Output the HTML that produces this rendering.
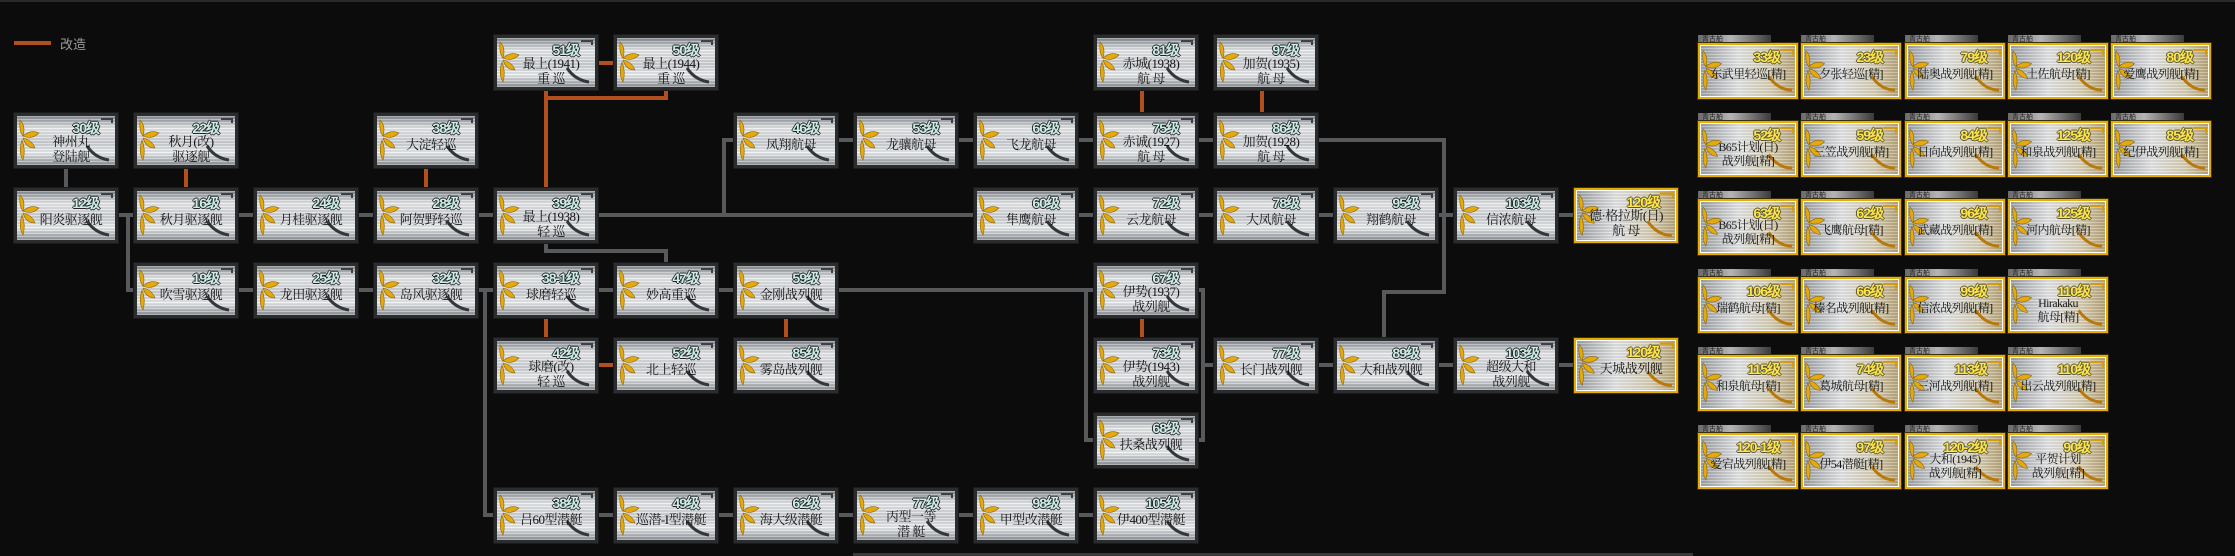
<!DOCTYPE html>
<html><head><meta charset="utf-8">
<style>
html,body{margin:0;padding:0;background:#0c0c0c;}
body{width:2235px;height:556px;position:relative;overflow:hidden;font-family:"Liberation Serif","Noto Serif CJK SC",serif;}
.l{position:absolute;background:#58595b;}
.o{position:absolute;background:#b14f1f;}
.n{position:absolute;width:104px;height:55px;box-sizing:border-box;border:3px solid #2a2c2e;
background:repeating-linear-gradient(180deg,rgba(255,255,255,.28) 0 1px,rgba(0,0,0,.07) 1px 3px),linear-gradient(180deg,#858a90 0%,#e9ebed 25%,#cfd2d6 55%,#eef0f2 75%,#8f9398 100%);
box-shadow:0 0 0 1px #1a1a1a;}
.n.g{border:2px solid #e6ad00;box-shadow:inset 0 0 0 1px #fff,0 0 0 1px #3a3010;
background:repeating-linear-gradient(180deg,rgba(255,255,255,.25) 0 1px,rgba(0,0,0,.06) 1px 3px),linear-gradient(90deg,#9ea2a6 0%,#e4e5e6 40%,#d8cfb4 75%,#b8a478 100%);}
.n svg{position:absolute;left:0;top:0;width:100%;height:100%;}
.lv{position:absolute;right:16px;top:2px;font:bold 14px "Liberation Sans",sans-serif;color:#cdeee8;letter-spacing:-1px;
text-shadow:1px 0 #222,-1px 0 #222,0 1px #222,0 -1px #222;}
.g .lv{color:#ffe44a;text-shadow:1px 0 #553,-1px 0 #553,0 1px #553,0 -1px #553;}
.nm{position:absolute;left:12px;right:2px;top:21px;text-align:center;font-size:13px;line-height:15px;color:#141414;white-space:nowrap;letter-spacing:-0.5px;}
.nm.t{top:18px;}
.c .nm{left:0;right:0;font-size:12px;line-height:14px;letter-spacing:-0.6px;top:22px;}
.c .nm.t{top:17px;}
.tab{position:absolute;width:73px;height:9px;background:linear-gradient(90deg,#6a6a6a,#b5b5b5 45%,#3a3a3a);font:7px "Liberation Sans","Noto Sans CJK SC",sans-serif;color:#222;line-height:9px;padding-left:4px;box-sizing:border-box;}
.c{position:absolute;width:100px;height:56px;}
</style></head><body>
<svg width="0" height="0" style="position:absolute">
<defs>
<symbol id="fl" viewBox="0 0 98 49">
<g fill="#e3a90e" stroke="#8a6508" stroke-width=".6">
<path d="M3 4 Q9 10 6 20 Q2 16 3 4Z"/>
<path d="M6 20 Q14 13 22 17 Q15 24 6 20Z"/>
<path d="M6 22 Q15 24 18 32 Q9 32 6 22Z"/>
<path d="M5 24 Q9 34 6 44 Q1 36 5 24Z"/>
</g>
<path d="M70 30 Q78 42 92 44" fill="none" stroke="#33363a" stroke-width="3"/>
<path d="M84 3 L95 3 L95 7" fill="none" stroke="#3d4044" stroke-width="2"/>
</symbol>
<symbol id="flg" viewBox="0 0 98 49">
<g fill="#e3a90e" stroke="#8a6508" stroke-width=".6">
<path d="M3 4 Q9 10 6 20 Q2 16 3 4Z"/>
<path d="M6 20 Q14 13 22 17 Q15 24 6 20Z"/>
<path d="M6 22 Q15 24 18 32 Q9 32 6 22Z"/>
<path d="M5 24 Q9 34 6 44 Q1 36 5 24Z"/>
</g>
<path d="M70 30 Q80 44 94 44" fill="none" stroke="#b8780a" stroke-width="3"/>
<path d="M82 3 L95 3 L95 8" fill="none" stroke="#d99a00" stroke-width="2"/>
</symbol>
</defs></svg>

<div style="position:absolute;left:0;top:0;width:2235px;height:2px;background:#2a2a2a"></div>
<div style="position:absolute;left:853px;top:553px;width:840px;height:3px;background:#3a3a3a"></div>

<div class="o" style="left:14px;top:41px;width:37px;height:4px"></div>
<div style="position:absolute;left:60px;top:34px;color:#9a9a9a;font:13px 'Liberation Sans','Noto Sans CJK SC',sans-serif">改造</div>

<div class="l" style="left:64px;top:168px;width:4px;height:20px"></div>
<div class="l" style="left:118px;top:213px;width:1456px;height:4px"></div>
<div class="l" style="left:722px;top:138px;width:4px;height:77px"></div>
<div class="l" style="left:722px;top:138px;width:724px;height:4px"></div>
<div class="l" style="left:1442px;top:138px;width:4px;height:156px"></div>
<div class="l" style="left:1382px;top:290px;width:64px;height:4px"></div>
<div class="l" style="left:1382px;top:290px;width:4px;height:48px"></div>
<div class="l" style="left:126px;top:215px;width:4px;height:77px"></div>
<div class="l" style="left:126px;top:288px;width:970px;height:4px"></div>
<div class="l" style="left:544px;top:242px;width:4px;height:11px"></div>
<div class="l" style="left:544px;top:249px;width:124px;height:4px"></div>
<div class="l" style="left:664px;top:249px;width:4px;height:14px"></div>
<div class="l" style="left:483px;top:290px;width:4px;height:227px"></div>
<div class="l" style="left:483px;top:513px;width:611px;height:4px"></div>
<div class="l" style="left:1084px;top:290px;width:4px;height:152px"></div>
<div class="l" style="left:1084px;top:438px;width:12px;height:4px"></div>
<div class="l" style="left:1196px;top:288px;width:9px;height:4px"></div>
<div class="l" style="left:1201px;top:288px;width:4px;height:154px"></div>
<div class="l" style="left:1196px;top:438px;width:9px;height:4px"></div>
<div class="l" style="left:1201px;top:363px;width:372px;height:4px"></div>

<div class="o" style="left:184px;top:168px;width:4px;height:20px"></div>
<div class="o" style="left:424px;top:168px;width:4px;height:20px"></div>
<div class="o" style="left:598px;top:61px;width:16px;height:4px"></div>
<div class="o" style="left:544px;top:90px;width:4px;height:98px"></div>
<div class="o" style="left:664px;top:90px;width:4px;height:10px"></div>
<div class="o" style="left:544px;top:96px;width:124px;height:4px"></div>
<div class="o" style="left:1140px;top:90px;width:4px;height:23px"></div>
<div class="o" style="left:1260px;top:90px;width:4px;height:23px"></div>
<div class="o" style="left:544px;top:318px;width:4px;height:20px"></div>
<div class="o" style="left:598px;top:363px;width:16px;height:4px"></div>
<div class="o" style="left:784px;top:318px;width:4px;height:20px"></div>
<div class="o" style="left:1140px;top:318px;width:4px;height:20px"></div>

<div class="n" style="left:494px;top:35px"><svg><use href="#fl"/></svg><div class="lv">51级</div><div class="nm t">最上(1941)<br>重 巡</div></div>
<div class="n" style="left:614px;top:35px"><svg><use href="#fl"/></svg><div class="lv">50级</div><div class="nm t">最上(1944)<br>重 巡</div></div>
<div class="n" style="left:1094px;top:35px"><svg><use href="#fl"/></svg><div class="lv">81级</div><div class="nm t">赤城(1938)<br>航 母</div></div>
<div class="n" style="left:1214px;top:35px"><svg><use href="#fl"/></svg><div class="lv">97级</div><div class="nm t">加贺(1935)<br>航 母</div></div>
<div class="n" style="left:14px;top:113px"><svg><use href="#fl"/></svg><div class="lv">30级</div><div class="nm t">神州丸<br>登陆舰</div></div>
<div class="n" style="left:134px;top:113px"><svg><use href="#fl"/></svg><div class="lv">22级</div><div class="nm t">秋月(改)<br>驱逐舰</div></div>
<div class="n" style="left:374px;top:113px"><svg><use href="#fl"/></svg><div class="lv">38级</div><div class="nm">大淀轻巡</div></div>
<div class="n" style="left:734px;top:113px"><svg><use href="#fl"/></svg><div class="lv">46级</div><div class="nm">凤翔航母</div></div>
<div class="n" style="left:854px;top:113px"><svg><use href="#fl"/></svg><div class="lv">53级</div><div class="nm">龙骧航母</div></div>
<div class="n" style="left:974px;top:113px"><svg><use href="#fl"/></svg><div class="lv">66级</div><div class="nm">飞龙航母</div></div>
<div class="n" style="left:1094px;top:113px"><svg><use href="#fl"/></svg><div class="lv">75级</div><div class="nm t">赤诚(1927)<br>航 母</div></div>
<div class="n" style="left:1214px;top:113px"><svg><use href="#fl"/></svg><div class="lv">86级</div><div class="nm t">加贺(1928)<br>航 母</div></div>
<div class="n" style="left:14px;top:188px"><svg><use href="#fl"/></svg><div class="lv">12级</div><div class="nm">阳炎驱逐舰</div></div>
<div class="n" style="left:134px;top:188px"><svg><use href="#fl"/></svg><div class="lv">16级</div><div class="nm">秋月驱逐舰</div></div>
<div class="n" style="left:254px;top:188px"><svg><use href="#fl"/></svg><div class="lv">24级</div><div class="nm">月桂驱逐舰</div></div>
<div class="n" style="left:374px;top:188px"><svg><use href="#fl"/></svg><div class="lv">28级</div><div class="nm">阿贺野轻巡</div></div>
<div class="n" style="left:494px;top:188px"><svg><use href="#fl"/></svg><div class="lv">39级</div><div class="nm t">最上(1938)<br>轻 巡</div></div>
<div class="n" style="left:974px;top:188px"><svg><use href="#fl"/></svg><div class="lv">60级</div><div class="nm">隼鹰航母</div></div>
<div class="n" style="left:1094px;top:188px"><svg><use href="#fl"/></svg><div class="lv">72级</div><div class="nm">云龙航母</div></div>
<div class="n" style="left:1214px;top:188px"><svg><use href="#fl"/></svg><div class="lv">78级</div><div class="nm">大凤航母</div></div>
<div class="n" style="left:1334px;top:188px"><svg><use href="#fl"/></svg><div class="lv">95级</div><div class="nm">翔鹤航母</div></div>
<div class="n" style="left:1454px;top:188px"><svg><use href="#fl"/></svg><div class="lv">103级</div><div class="nm">信浓航母</div></div>
<div class="n g" style="left:1574px;top:188px"><svg><use href="#flg"/></svg><div class="lv">120级</div><div class="nm t" style="left:2px">德·格拉斯(日)<br>航 母</div></div>
<div class="n" style="left:134px;top:263px"><svg><use href="#fl"/></svg><div class="lv">19级</div><div class="nm">吹雪驱逐舰</div></div>
<div class="n" style="left:254px;top:263px"><svg><use href="#fl"/></svg><div class="lv">25级</div><div class="nm">龙田驱逐舰</div></div>
<div class="n" style="left:374px;top:263px"><svg><use href="#fl"/></svg><div class="lv">32级</div><div class="nm">岛风驱逐舰</div></div>
<div class="n" style="left:494px;top:263px"><svg><use href="#fl"/></svg><div class="lv">38-1级</div><div class="nm">球磨轻巡</div></div>
<div class="n" style="left:614px;top:263px"><svg><use href="#fl"/></svg><div class="lv">47级</div><div class="nm">妙高重巡</div></div>
<div class="n" style="left:734px;top:263px"><svg><use href="#fl"/></svg><div class="lv">59级</div><div class="nm">金刚战列舰</div></div>
<div class="n" style="left:1094px;top:263px"><svg><use href="#fl"/></svg><div class="lv">67级</div><div class="nm t">伊势(1937)<br>战列舰</div></div>
<div class="n" style="left:494px;top:338px"><svg><use href="#fl"/></svg><div class="lv">42级</div><div class="nm t">球磨(改)<br>轻 巡</div></div>
<div class="n" style="left:614px;top:338px"><svg><use href="#fl"/></svg><div class="lv">52级</div><div class="nm">北上轻巡</div></div>
<div class="n" style="left:734px;top:338px"><svg><use href="#fl"/></svg><div class="lv">85级</div><div class="nm">雾岛战列舰</div></div>
<div class="n" style="left:1094px;top:338px"><svg><use href="#fl"/></svg><div class="lv">73级</div><div class="nm t">伊势(1943)<br>战列舰</div></div>
<div class="n" style="left:1214px;top:338px"><svg><use href="#fl"/></svg><div class="lv">77级</div><div class="nm">长门战列舰</div></div>
<div class="n" style="left:1334px;top:338px"><svg><use href="#fl"/></svg><div class="lv">89级</div><div class="nm">大和战列舰</div></div>
<div class="n" style="left:1454px;top:338px"><svg><use href="#fl"/></svg><div class="lv">103级</div><div class="nm t">超级大和<br>战列舰</div></div>
<div class="n g" style="left:1574px;top:338px"><svg><use href="#flg"/></svg><div class="lv">120级</div><div class="nm">天城战列舰</div></div>
<div class="n" style="left:1094px;top:413px"><svg><use href="#fl"/></svg><div class="lv">68级</div><div class="nm">扶桑战列舰</div></div>
<div class="n" style="left:494px;top:488px"><svg><use href="#fl"/></svg><div class="lv">38级</div><div class="nm">吕60型潜艇</div></div>
<div class="n" style="left:614px;top:488px"><svg><use href="#fl"/></svg><div class="lv">49级</div><div class="nm">巡潜-I型潜艇</div></div>
<div class="n" style="left:734px;top:488px"><svg><use href="#fl"/></svg><div class="lv">62级</div><div class="nm">海大级潜艇</div></div>
<div class="n" style="left:854px;top:488px"><svg><use href="#fl"/></svg><div class="lv">77级</div><div class="nm t">丙型一等<br>潜 艇</div></div>
<div class="n" style="left:974px;top:488px"><svg><use href="#fl"/></svg><div class="lv">98级</div><div class="nm">甲型改潜艇</div></div>
<div class="n" style="left:1094px;top:488px"><svg><use href="#fl"/></svg><div class="lv">105级</div><div class="nm">伊400型潜艇</div></div>

<div class="tab" style="left:1698px;top:35px">青古舶</div><div class="n g c" style="left:1698px;top:43px"><svg><use href="#flg"/></svg><div class="lv">33级</div><div class="nm">东武里轻巡[精]</div></div>
<div class="tab" style="left:1801px;top:35px">青古舶</div><div class="n g c" style="left:1801px;top:43px"><svg><use href="#flg"/></svg><div class="lv">23级</div><div class="nm">夕张轻巡[精]</div></div>
<div class="tab" style="left:1905px;top:35px">青古舶</div><div class="n g c" style="left:1905px;top:43px"><svg><use href="#flg"/></svg><div class="lv">79级</div><div class="nm">陆奥战列舰[精]</div></div>
<div class="tab" style="left:2008px;top:35px">青古舶</div><div class="n g c" style="left:2008px;top:43px"><svg><use href="#flg"/></svg><div class="lv">120级</div><div class="nm">土佐航母[精]</div></div>
<div class="tab" style="left:2111px;top:35px">青古舶</div><div class="n g c" style="left:2111px;top:43px"><svg><use href="#flg"/></svg><div class="lv">80级</div><div class="nm">爱鹰战列舰[精]</div></div>

<div class="tab" style="left:1698px;top:113px">青古舶</div><div class="n g c" style="left:1698px;top:121px"><svg><use href="#flg"/></svg><div class="lv">52级</div><div class="nm t">B65计划(日)<br>战列舰[精]</div></div>
<div class="tab" style="left:1801px;top:113px">青古舶</div><div class="n g c" style="left:1801px;top:121px"><svg><use href="#flg"/></svg><div class="lv">59级</div><div class="nm">三笠战列舰[精]</div></div>
<div class="tab" style="left:1905px;top:113px">青古舶</div><div class="n g c" style="left:1905px;top:121px"><svg><use href="#flg"/></svg><div class="lv">84级</div><div class="nm">日向战列舰[精]</div></div>
<div class="tab" style="left:2008px;top:113px">青古舶</div><div class="n g c" style="left:2008px;top:121px"><svg><use href="#flg"/></svg><div class="lv">125级</div><div class="nm">和泉战列舰[精]</div></div>
<div class="tab" style="left:2111px;top:113px">青古舶</div><div class="n g c" style="left:2111px;top:121px"><svg><use href="#flg"/></svg><div class="lv">85级</div><div class="nm">纪伊战列舰[精]</div></div>

<div class="tab" style="left:1698px;top:191px">青古舶</div><div class="n g c" style="left:1698px;top:199px"><svg><use href="#flg"/></svg><div class="lv">63级</div><div class="nm t">B65计划(日)<br>战列舰[精]</div></div>
<div class="tab" style="left:1801px;top:191px">青古舶</div><div class="n g c" style="left:1801px;top:199px"><svg><use href="#flg"/></svg><div class="lv">62级</div><div class="nm">飞鹰航母[精]</div></div>
<div class="tab" style="left:1905px;top:191px">青古舶</div><div class="n g c" style="left:1905px;top:199px"><svg><use href="#flg"/></svg><div class="lv">96级</div><div class="nm">武藏战列舰[精]</div></div>
<div class="tab" style="left:2008px;top:191px">青古舶</div><div class="n g c" style="left:2008px;top:199px"><svg><use href="#flg"/></svg><div class="lv">125级</div><div class="nm">河内航母[精]</div></div>

<div class="tab" style="left:1698px;top:269px">青古舶</div><div class="n g c" style="left:1698px;top:277px"><svg><use href="#flg"/></svg><div class="lv">106级</div><div class="nm">瑞鹤航母[精]</div></div>
<div class="tab" style="left:1801px;top:269px">青古舶</div><div class="n g c" style="left:1801px;top:277px"><svg><use href="#flg"/></svg><div class="lv">66级</div><div class="nm">榛名战列舰[精]</div></div>
<div class="tab" style="left:1905px;top:269px">青古舶</div><div class="n g c" style="left:1905px;top:277px"><svg><use href="#flg"/></svg><div class="lv">99级</div><div class="nm">信浓战列舰[精]</div></div>
<div class="tab" style="left:2008px;top:269px">青古舶</div><div class="n g c" style="left:2008px;top:277px"><svg><use href="#flg"/></svg><div class="lv">110级</div><div class="nm t">Hirakaku<br>航母[精]</div></div>

<div class="tab" style="left:1698px;top:347px">青古舶</div><div class="n g c" style="left:1698px;top:355px"><svg><use href="#flg"/></svg><div class="lv">115级</div><div class="nm">和泉航母[精]</div></div>
<div class="tab" style="left:1801px;top:347px">青古舶</div><div class="n g c" style="left:1801px;top:355px"><svg><use href="#flg"/></svg><div class="lv">74级</div><div class="nm">葛城航母[精]</div></div>
<div class="tab" style="left:1905px;top:347px">青古舶</div><div class="n g c" style="left:1905px;top:355px"><svg><use href="#flg"/></svg><div class="lv">113级</div><div class="nm">三河战列舰[精]</div></div>
<div class="tab" style="left:2008px;top:347px">青古舶</div><div class="n g c" style="left:2008px;top:355px"><svg><use href="#flg"/></svg><div class="lv">110级</div><div class="nm">出云战列舰[精]</div></div>

<div class="tab" style="left:1698px;top:425px">青古舶</div><div class="n g c" style="left:1698px;top:433px"><svg><use href="#flg"/></svg><div class="lv">120-1级</div><div class="nm">爱宕战列舰[精]</div></div>
<div class="tab" style="left:1801px;top:425px">青古舶</div><div class="n g c" style="left:1801px;top:433px"><svg><use href="#flg"/></svg><div class="lv">97级</div><div class="nm">伊54潜艇[精]</div></div>
<div class="tab" style="left:1905px;top:425px">青古舶</div><div class="n g c" style="left:1905px;top:433px"><svg><use href="#flg"/></svg><div class="lv">120-2级</div><div class="nm t">大和(1945)<br>战列舰[精]</div></div>
<div class="tab" style="left:2008px;top:425px">青古舶</div><div class="n g c" style="left:2008px;top:433px"><svg><use href="#flg"/></svg><div class="lv">90级</div><div class="nm t">平贺计划<br>战列舰[精]</div></div>
</body></html>
